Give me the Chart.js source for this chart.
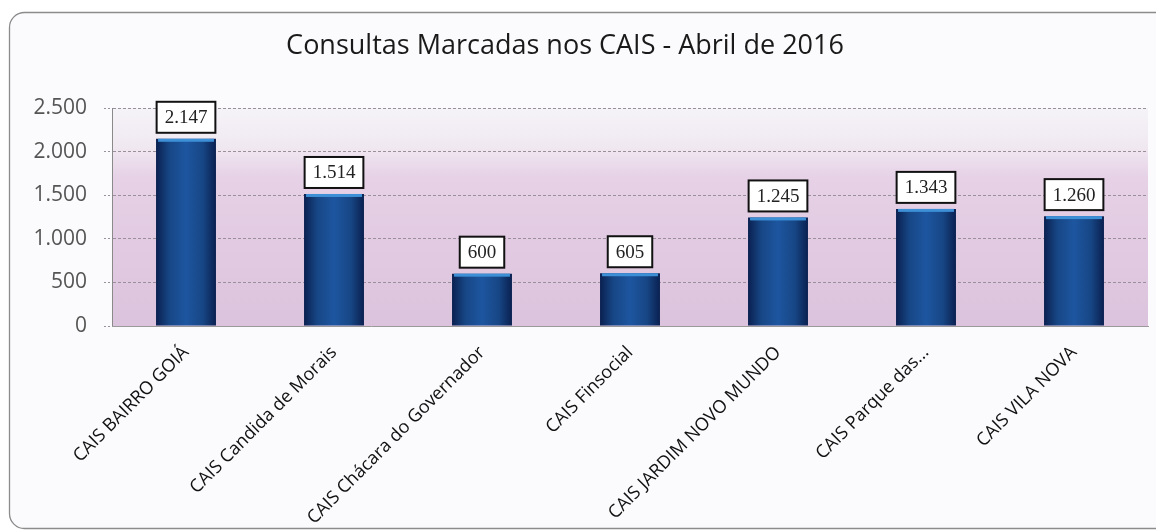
<!DOCTYPE html>
<html>
<head>
<meta charset="utf-8">
<script src="https://cdn.jsdelivr.net/npm/chart.js@4"></script>
<style>
  html, body { margin: 0; padding: 0; background: #fff; }
  #wrap { width: 1156px; height: 531px; position: relative; }
</style>
</head>
<body>
<div id="wrap"><canvas id="chart"></canvas></div>
<script>
// dados do grafico
const categorias = [
  "CAIS BAIRRO GOIÁ",
  "CAIS Candida de Morais",
  "CAIS Chácara do Governador",
  "CAIS Finsocial",
  "CAIS JARDIM NOVO MUNDO",
  "CAIS Parque das...",
  "CAIS VILA NOVA"
];
const consultas = [2147, 1514, 600, 605, 1245, 1343, 1260];
const ticksY = [0, 500, 1000, 1500, 2000, 2500];
const titulo = "Consultas Marcadas nos CAIS - Abril de 2016";

function fmt(v) {
  return v.toLocaleString("pt-BR");
}

// moldura, titulo e fundo da area do grafico
const frame = {
  id: "frame",
  beforeDraw(chart) {
    const c = chart.ctx;
    const a = chart.chartArea;
    c.save();
    c.fillStyle = "#fbfbfd";
    c.beginPath();
    c.roundRect(9.5, 12.5, 1170, 516, 15);
    c.fill();
    c.strokeStyle = "#8c8c8c";
    c.lineWidth = 1.3;
    c.stroke();

    const g = c.createLinearGradient(0, a.top, 0, a.bottom);
    g.addColorStop(0, "#f5f3f8");
    g.addColorStop(0.18, "#f0e8f1");
    g.addColorStop(0.32, "#e6d1e6");
    g.addColorStop(1, "#dcc3dd");
    c.fillStyle = g;
    c.fillRect(a.left, a.top, a.right - a.left, a.bottom - a.top);

    c.fillStyle = "#1a1a1a";
    c.font = "27px 'Open Sans'";
    c.textAlign = "center";
    c.textBaseline = "middle";
    c.fillText(titulo, 565, 46);
    c.restore();
  }
};

// rotulos com caixa sobre as barras
const boxLabels = {
  id: "boxLabels",
  afterDatasetsDraw(chart) {
    const c = chart.ctx;
    const meta = chart.getDatasetMeta(0);
    c.save();
    meta.data.forEach((bar, i) => {
      // brilho no topo da barra
      c.fillStyle = "#3d8fd6";
      c.fillRect(bar.x - bar.width / 2 + 2, bar.y, bar.width - 4, 3);

      const txt = fmt(consultas[i]);
      c.font = "19px 'Liberation Serif'";
      const w = c.measureText(txt).width + 16;
      const h = 31;
      const x = bar.x - w / 2;
      const y = bar.y - 6 - h;
      c.fillStyle = "#ffffff";
      c.fillRect(x, y, w, h);
      c.strokeStyle = "#111";
      c.lineWidth = 2;
      c.strokeRect(x, y, w, h);
      c.fillStyle = "#222";
      c.textAlign = "center";
      c.textBaseline = "middle";
      c.fillText(txt, bar.x, y + h / 2 + 1);
    });
    c.restore();
  }
};

function barFill(context) {
  const chart = context.chart;
  const xs = chart.scales.x;
  if (!xs || xs.left === undefined) return "#1b4f94";
  const cx = xs.getPixelForValue(context.dataIndex);
  const half = 30;
  const g = chart.ctx.createLinearGradient(cx - half, 0, cx + half, 0);
  g.addColorStop(0, "#0a2050");
  g.addColorStop(0.22, "#174685");
  g.addColorStop(0.5, "#1d56a0");
  g.addColorStop(0.78, "#174685");
  g.addColorStop(1, "#0a2050");
  return g;
}

new Chart(document.getElementById("chart"), {
  type: "bar",
  data: {
    labels: categorias,
    datasets: [{
      data: consultas,
      backgroundColor: barFill,
      borderWidth: 0,
      barPercentage: 0.405,
      categoryPercentage: 1
    }]
  },
  options: {
    responsive: true,
    maintainAspectRatio: false,
    animation: false,
    layout: { padding: { left: 0, right: 8, top: 108, bottom: 0 } },
    plugins: {
      legend: { display: false },
      tooltip: { enabled: false },
      title: { display: false }
    },
    scales: {
      y: {
        min: 0,
        max: 2500,
        afterBuildTicks(axis) {
          axis.ticks = ticksY.map(v => ({ value: v }));
        },
        afterFit(axis) {
          axis.width = 112;
        },
        ticks: {
          color: "#555",
          font: { family: "'Open Sans'", size: 21 },
          padding: 17,
          callback: v => fmt(v)
        },
        grid: {
          color: "#9a909c",
          lineWidth: 1,
          tickLength: 8,
          tickBorderDash: [2, 2]
        },
        border: { color: "#8a8a8a", dash: [3, 2] }
      },
      x: {
        afterFit(axis) {
          axis.height = 205;
        },
        ticks: {
          color: "#111",
          font: { family: "'Open Sans'", size: 18 },
          minRotation: 45,
          maxRotation: 45,
          padding: 8,
          autoSkip: false
        },
        grid: { display: false },
        border: { color: "#9a9a9a" }
      }
    }
  }
  ,
  plugins: [frame, boxLabels]
});
</script>
</body>
</html>
